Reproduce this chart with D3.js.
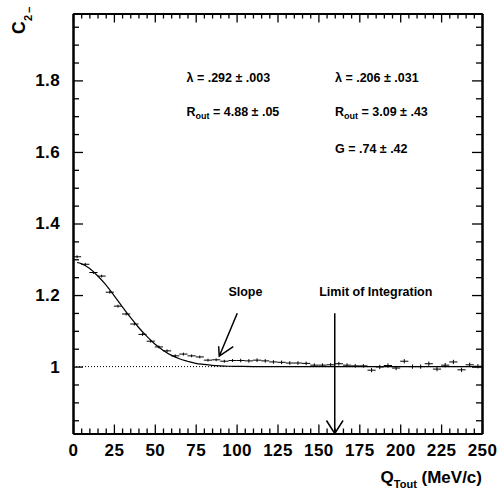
<!DOCTYPE html>
<html>
<head>
<meta charset="utf-8">
<script src="https://cdn.jsdelivr.net/npm/d3@7/dist/d3.min.js"></script>
<style>
  body { margin: 0; background: #fff; }
  text { font-family: "Liberation Sans", Arial, Helvetica, sans-serif; font-weight: bold; fill: #000; }
</style>
</head>
<body>
<div id="chart"></div>
<script>
// Data
// =================================
// bin centres (MeV/c)
var qBins = [2.5, 7.5, 12.5, 17.5, 22.5, 27.5, 32.5, 37.5, 42.5, 47.5,
             52.5, 57.5, 62.5, 67.5, 72.5, 77.5, 82.5, 87.5, 92.5, 97.5,
             102.5, 107.5, 112.5, 117.5, 122.5, 127.5, 132.5, 137.5, 142.5, 147.5,
             152.5, 157.5, 162.5, 167.5, 172.5, 177.5, 182.5, 187.5, 192.5, 197.5,
             202.5, 207.5, 212.5, 217.5, 222.5, 227.5, 232.5, 237.5, 242.5, 247.5];

// C2 values per bin
var c2Values = [1.307, 1.286, 1.263, 1.253, 1.208, 1.169, 1.147, 1.119, 1.090, 1.071,
                1.055, 1.044, 1.030, 1.035, 1.030, 1.027, 1.018, 1.019, 1.015, 1.017,
                1.017, 1.016, 1.018, 1.016, 1.013, 1.012, 1.010, 1.010, 1.009, 1.004,
                1.004, 1.005, 1.008, 1.004, 1.002, 1.002, 0.990, 0.999, 1.003, 0.996,
                1.015, 1.000, 1.000, 1.008, 0.993, 1.004, 1.013, 0.991, 1.005, 1.001];

// statistical errors
var c2Errors = [0.004, 0.004, 0.004, 0.004, 0.004, 0.004, 0.004, 0.004, 0.004, 0.004,
                0.004, 0.004, 0.004, 0.004, 0.004, 0.004, 0.004, 0.004, 0.004, 0.004,
                0.005, 0.005, 0.005, 0.005, 0.005, 0.005, 0.005, 0.005, 0.005, 0.005,
                0.005, 0.005, 0.005, 0.005, 0.005, 0.005, 0.006, 0.006, 0.006, 0.006,
                0.006, 0.006, 0.006, 0.006, 0.006, 0.006, 0.006, 0.006, 0.006, 0.006];

// fit curve
var fitQ  = [2.5, 5, 10, 15, 20, 25, 30, 35, 40, 45, 50, 55, 60, 65, 70, 75, 80, 85, 90, 95, 100, 110, 120, 150, 200, 250];
var fitC2 = [1.291, 1.288, 1.275, 1.254, 1.229, 1.199, 1.168, 1.138, 1.110, 1.085, 1.063, 1.046,
             1.032, 1.022, 1.015, 1.009, 1.006, 1.0035, 1.002, 1.001, 1.0006, 1.0002, 1.0, 1.0, 1.0, 1.0];

// axis ticks
var xMajorTicks = [0, 25, 50, 75, 100, 125, 150, 175, 200, 225, 250];
var yMajorTicks = [1, 1.2, 1.4, 1.6, 1.8];

// fit results text
var leftFit  = [["λ = .292 ± .003", null], ["R", " = 4.88 ± .05"]];
var rightFit = [["λ = .206 ± .031", null], ["R", " = 3.09 ± .43"], ["G = .74 ± .42", null]];

var limitQ = 160;

// Set up our chart
var svgWidth = 498;
var svgHeight = 491;

var margin = {
    top: 13.5,
    right: 16,
    bottom: 57.5,
    left: 73
};

var width = svgWidth - margin.left - margin.right;
var height = svgHeight - margin.top - margin.bottom;

var svg = d3.select("#chart")
    .append("svg")
    .attr("width", svgWidth)
    .attr("height", svgHeight);

var chartGroup = svg.append("g")
    .attr("transform", `translate(${margin.left}, ${margin.top})`);

// Scales
var xScale = d3.scaleLinear()
    .domain([0, 250])
    .range([0, width]);

var yScale = d3.scaleLinear()
    .domain([0.813, 1.987])
    .range([height, 0]);

var xMinor = d3.range(0, 251, 5).filter(d => d % 25 !== 0);
var yMinor = d3.range(0.85, 1.96, 0.05).filter(d => Math.abs(d * 5 - Math.round(d * 5)) > 0.01);

var yFormat = d => d === 1 ? "1" : d3.format(".1f")(d);

// Axes (ticks point inside the frame)
function styleAxis(g) {
    g.select(".domain").attr("stroke-width", 2);
    g.selectAll(".tick line").attr("stroke-width", 1.3);
    g.selectAll("text")
        .attr("font-size", "17px")
        .attr("letter-spacing", "0.4px")
        .attr("font-family", null)
        .attr("font-weight", "bold");
}

chartGroup.append("g")
    .attr("transform", `translate(0, ${height})`)
    .call(d3.axisBottom(xScale).tickValues(xMajorTicks).tickSizeInner(-9).tickSizeOuter(0).tickPadding(10))
    .call(styleAxis);

chartGroup.append("g")
    .attr("transform", `translate(0, ${height})`)
    .call(d3.axisBottom(xScale).tickValues(xMinor).tickSizeInner(-5).tickSizeOuter(0).tickFormat(""))
    .call(styleAxis);

chartGroup.append("g")
    .call(d3.axisTop(xScale).tickValues(xMajorTicks).tickSizeInner(-9).tickSizeOuter(0).tickFormat(""))
    .call(styleAxis);

chartGroup.append("g")
    .call(d3.axisTop(xScale).tickValues(xMinor).tickSizeInner(-5).tickSizeOuter(0).tickFormat(""))
    .call(styleAxis);

chartGroup.append("g")
    .call(d3.axisLeft(yScale).tickValues(yMajorTicks).tickSizeInner(-10).tickSizeOuter(0).tickPadding(13).tickFormat(yFormat))
    .call(styleAxis);

chartGroup.append("g")
    .call(d3.axisLeft(yScale).tickValues(yMinor).tickSizeInner(-6).tickSizeOuter(0).tickFormat(""))
    .call(styleAxis);

chartGroup.append("g")
    .attr("transform", `translate(${width}, 0)`)
    .call(d3.axisRight(yScale).tickValues(yMajorTicks).tickSizeInner(-10).tickSizeOuter(0).tickFormat(""))
    .call(styleAxis);

chartGroup.append("g")
    .attr("transform", `translate(${width}, 0)`)
    .call(d3.axisRight(yScale).tickValues(yMinor).tickSizeInner(-6).tickSizeOuter(0).tickFormat(""))
    .call(styleAxis);

// dotted line at C2 = 1
chartGroup.append("line")
    .attr("x1", xScale(0))
    .attr("x2", xScale(250))
    .attr("y1", yScale(1))
    .attr("y2", yScale(1))
    .attr("stroke", "#000")
    .attr("stroke-width", 1)
    .attr("stroke-dasharray", "1,2");

// fit curve
var fitData = fitQ.map((q, i) => ({ q: q, c: fitC2[i] }));
var fitLine = d3.line()
    .x(d => xScale(d.q))
    .y(d => yScale(d.c))
    .curve(d3.curveMonotoneX);

chartGroup.append("path")
    .datum(fitData)
    .attr("d", fitLine)
    .attr("fill", "none")
    .attr("stroke", "#000")
    .attr("stroke-width", 1.2);

// data points with error bars
var points = qBins.map((q, i) => ({ q: q, c: c2Values[i], e: c2Errors[i] }));

var pointGroup = chartGroup.selectAll(".pt")
    .data(points)
    .enter()
    .append("g")
    .attr("class", "pt");

pointGroup.append("line")
    .attr("x1", d => xScale(d.q - 2.5))
    .attr("x2", d => xScale(d.q + 2.5))
    .attr("y1", d => yScale(d.c))
    .attr("y2", d => yScale(d.c))
    .attr("stroke", "#000")
    .attr("stroke-width", 1);

pointGroup.append("line")
    .attr("x1", d => xScale(d.q))
    .attr("x2", d => xScale(d.q))
    .attr("y1", d => yScale(d.c - d.e))
    .attr("y2", d => yScale(d.c + d.e))
    .attr("stroke", "#000")
    .attr("stroke-width", 1);

// Slope arrow
var slopeTip = [xScale(89.4), yScale(1.029)];
chartGroup.append("path")
    .attr("d", `M${xScale(100.4)},${yScale(1.149)} L${slopeTip[0]},${slopeTip[1]}` +
               ` M${slopeTip[0] - 0.6},${slopeTip[1] - 10} L${slopeTip[0]},${slopeTip[1]} L${slopeTip[0] + 14},${slopeTip[1] - 9.5}`)
    .attr("fill", "none")
    .attr("stroke", "#000")
    .attr("stroke-width", 1.5);

// Limit of integration arrow
var limX = xScale(limitQ);
chartGroup.append("path")
    .attr("d", `M${limX},${yScale(1.149)} L${limX},${height}` +
               ` M${limX - 8.3},${height - 13} L${limX},${height} L${limX + 8.3},${height - 13}`)
    .attr("fill", "none")
    .attr("stroke", "#000")
    .attr("stroke-width", 1.5);

// Labels
chartGroup.append("text")
    .attr("x", xScale(95))
    .attr("y", yScale(1.197))
    .attr("font-size", "12.5px")
    .text("Slope");

chartGroup.append("text")
    .attr("x", xScale(150.5))
    .attr("y", yScale(1.197))
    .attr("font-size", "12.5px")
    .text("Limit of Integration");

function fitText(list, xPos) {
    var rowY = [68.2, 102.2, 139.2];
    list.forEach(function(row, i) {
        var t = svg.append("text")
            .attr("x", xPos)
            .attr("y", rowY[i] + margin.top)
            .attr("font-size", "12.5px");
        if (row[1] === null) {
            t.text(row[0]);
        } else {
            t.append("tspan").text(row[0]);
            t.append("tspan").attr("font-size", "9px").attr("dy", 3).text("out");
            t.append("tspan").attr("dy", -3).text(row[1]);
        }
    });
}
fitText(leftFit, 186.5);
fitText(rightFit, 335);

// Axis titles
var xTitle = svg.append("text")
    .attr("x", margin.left + width)
    .attr("y", 483)
    .attr("text-anchor", "end")
    .attr("font-size", "17px");
xTitle.append("tspan").text("Q");
xTitle.append("tspan").attr("font-size", "11px").attr("dy", 5).text("Tout");
xTitle.append("tspan").attr("dy", -5).text(" (MeV/c)");

var yTitle = svg.append("g")
    .attr("transform", "translate(25, 34) rotate(-90)");
yTitle.append("text")
    .attr("font-size", "17.5px")
    .text("C");
yTitle.append("text")
    .attr("x", 13)
    .attr("y", 6.5)
    .attr("font-size", "11px")
    .text("2");
yTitle.append("text")
    .attr("x", 21)
    .attr("y", 7.5)
    .attr("font-size", "11px")
    .text("−");
</script>
</body>
</html>
